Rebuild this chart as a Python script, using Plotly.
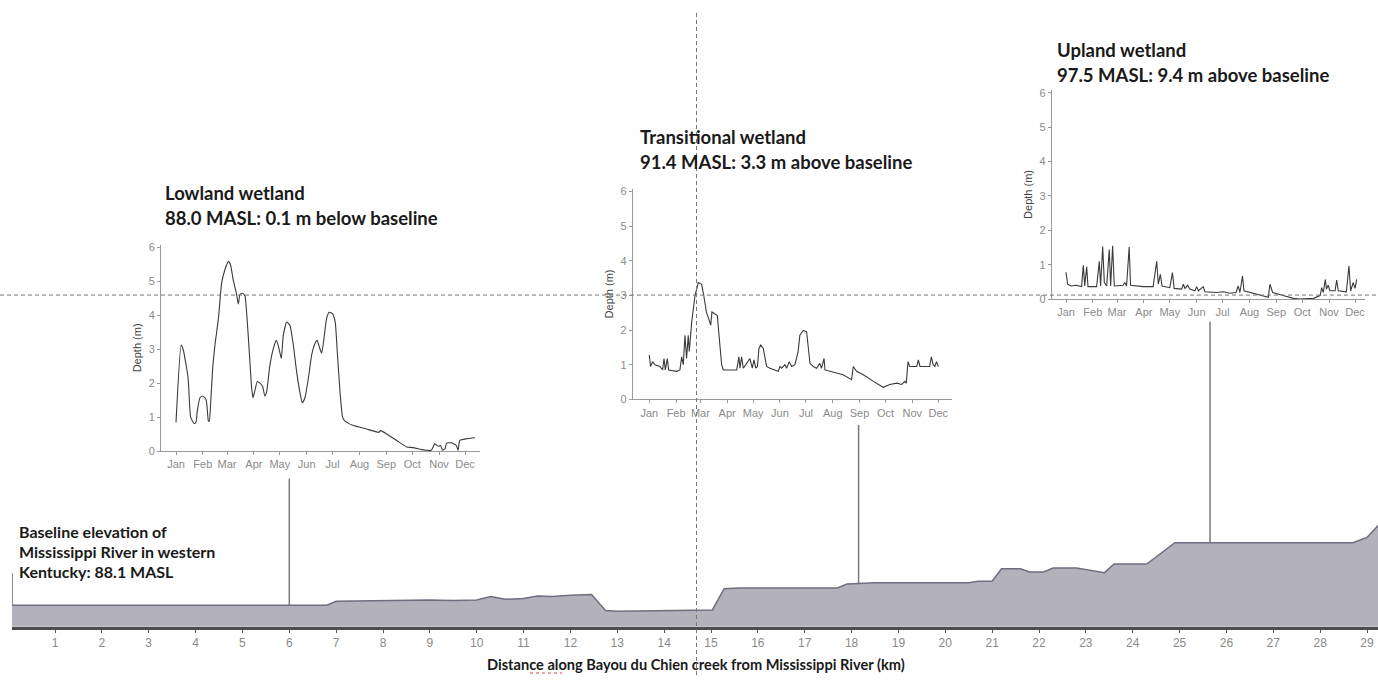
import plotly.graph_objects as go

W, H = 1378, 681

# ---------------- data ----------------
profile_km = [0, 6.8, 7.0, 7.5, 8.0, 8.5, 9.0, 9.5, 10.0, 10.3, 10.6, 11.0, 11.3, 11.6, 12.0, 12.45,
              12.75, 13.0, 14.0, 15.03, 15.28, 15.6, 17.7, 17.9, 18.5, 20.5, 20.7, 21.0, 21.2, 21.6,
              21.8, 22.1, 22.3, 22.8, 23.4, 23.6, 24.3, 24.9, 28.7, 29.0, 29.25]
profile_masl = [88.1, 88.1, 88.7, 88.75, 88.8, 88.85, 88.9, 88.8, 88.9, 89.4, 89.0, 89.1, 89.5, 89.4,
                89.6, 89.7, 87.3, 87.2, 87.35, 87.4, 90.6, 90.7, 90.7, 91.3, 91.5, 91.5, 91.7, 91.7,
                93.6, 93.6, 93.1, 93.1, 93.7, 93.7, 93.0, 94.3, 94.3, 97.5, 97.5, 98.3, 100.2]
km_ticks = list(range(1, 30))

wetland_names = ["Lowland wetland", "Transitional wetland", "Upland wetland"]
wetland_km = [6.0, 18.15, 25.65]
wetland_masl = [88.0, 91.4, 97.5]
wetland_sub = ["88.0 MASL: 0.1 m below baseline", "91.4 MASL: 3.3 m above baseline",
               "97.5 MASL: 9.4 m above baseline"]

month_days = [1, 32, 60, 91, 121, 152, 182, 213, 244, 274, 305, 335]
month_labels = ["Jan", "Feb", "Mar", "Apr", "May", "Jun", "Jul", "Aug", "Sep", "Oct", "Nov", "Dec"]

low_day = [1, 7, 9.5, 15, 18, 22, 24, 25.6, 28.7, 31.8, 35.7, 37, 38.4, 39.5, 41, 43.4, 46, 50, 53.8,
           57.6, 61.5, 64, 67, 71, 73, 75, 78, 80.7, 82.6, 85.7, 88.4, 90, 92, 95, 98, 101, 103.7,
           105.8, 109.6, 113.5, 117, 120, 122.7, 125, 129, 132.7, 136.6, 140.4, 144, 147, 150, 154,
           157.8, 161.6, 164, 166.6, 169.3, 172, 175, 178, 182, 185, 187.4, 190.5, 193.6, 196, 206,
           221, 235, 237.8, 244.5, 256, 267.6, 275, 285, 296, 300, 304, 306.8, 309, 311.9, 313.8,
           319.6, 325, 327, 329, 337, 346.5]
low_depth = [0.84, 3.12, 2.97, 2.15, 0.99, 0.81, 0.84, 1.18, 1.57, 1.62, 1.52, 1.28, 0.89, 0.87, 1.38,
             2.44, 3.12, 3.9, 4.96, 5.35, 5.59, 5.49, 5.06, 4.62, 4.33, 4.62, 4.65, 4.57, 4.09, 2.92,
             1.86, 1.57, 1.76, 2.05, 2.0, 1.91, 1.62, 1.76, 2.54, 3.02, 3.26, 3.02, 2.73, 3.41, 3.8,
             3.7, 3.12, 2.34, 1.76, 1.42, 1.57, 2.15, 2.83, 3.17, 3.26, 3.07, 2.88, 3.31, 3.9, 4.09,
             4.04, 3.8, 2.92, 1.76, 0.99, 0.89, 0.75, 0.65, 0.55, 0.6, 0.5, 0.31, 0.12, 0.10, 0.04,
             0.02, 0.21, 0.14, 0.16, 0.02, 0.07, 0.23, 0.24, 0.16, 0.02, 0.31, 0.36, 0.39]

trans_day = [1, 2.5, 4.9, 7.5, 13.3, 16.4, 18, 19.5, 21.8, 23.3, 32.6, 36.4, 38.4, 40.3, 42.2, 44.1,
             46, 47.2, 50, 53.8, 57.6, 61.5, 64, 67, 69.6, 72, 73.4, 77, 79.6, 81.9, 84.6, 86.5, 102,
             104.6, 105.8, 107.7, 109.6, 113.5, 117.3, 120, 122, 124, 126, 127.7, 129.7, 132.7, 134.7,
             136.6, 140.4, 146, 150, 152, 154, 157.8, 159.7, 162.8, 165.5, 169.3, 173, 175, 179,
             182.8, 184.7, 186.7, 190.5, 194.4, 198, 200, 203, 204, 209.8, 217.5, 225, 234.8, 236.7,
             240.6, 248.3, 260, 271.4, 279, 287, 292.6, 296.5, 298, 300, 302, 310, 312, 313.8, 325,
             327, 329, 331, 333, 335]
trans_depth = [1.28, 0.95, 1.09, 1.0, 0.95, 0.85, 1.18, 0.85, 1.18, 0.85, 0.81, 0.85, 1.23, 1.0, 1.85,
               1.18, 1.85, 1.38, 2.23, 2.99, 3.37, 3.32, 2.99, 2.52, 2.33, 2.14, 2.52, 2.47, 2.42,
               1.76, 1.0, 0.85, 0.85, 1.23, 0.9, 1.23, 0.9, 1.04, 1.18, 0.9, 1.14, 0.9, 0.95, 1.47,
               1.57, 1.47, 1.18, 0.95, 0.9, 0.85, 0.81, 0.95, 0.9, 1.0, 0.9, 1.09, 0.95, 1.0, 1.38,
               1.85, 1.99, 1.95, 1.57, 1.04, 0.95, 0.9, 1.04, 0.9, 1.18, 0.85, 0.81, 0.76, 0.71, 0.57,
               0.95, 0.81, 0.71, 0.52, 0.35, 0.43, 0.47, 0.43, 0.52, 0.47, 1.09, 0.95, 0.95, 1.14,
               0.95, 0.95, 1.23, 1.0, 0.95, 1.09, 0.95]

up_day = [1, 2.9, 6.7, 12.5, 19, 21, 22.6, 24.9, 26.4, 36.4, 39.5, 41, 43.4, 45.3, 48, 51, 52.6, 54.9,
          56.8, 67, 69, 71, 74, 75.6, 90, 101.7, 105.8, 107.7, 110, 112, 121, 124, 126, 134.7, 136.6,
          138.5, 141.6, 144, 150, 152, 154, 159.7, 161.6, 175, 183, 190.5, 197.5, 200, 202, 205,
          206.7, 221, 234.8, 236.7, 239.8, 252, 263.7, 271, 281, 287, 294.7, 296.5, 298.4, 300.7,
          302, 304, 306, 312, 313.8, 315.7, 325, 328, 330, 333, 335, 337]
up_depth = [0.78, 0.43, 0.38, 0.40, 0.36, 0.98, 0.38, 0.94, 0.36, 0.36, 1.1, 0.38, 1.53, 0.48, 0.38,
            1.44, 0.38, 1.55, 0.38, 0.40, 0.48, 0.38, 1.51, 0.40, 0.36, 0.36, 1.1, 0.43, 0.72, 0.38,
            0.33, 0.77, 0.31, 0.29, 0.43, 0.31, 0.40, 0.29, 0.24, 0.36, 0.24, 0.36, 0.21, 0.19, 0.21,
            0.17, 0.19, 0.38, 0.19, 0.67, 0.24, 0.14, 0.05, 0.43, 0.19, 0.10, 0.02, 0.0, 0.0, 0.02,
            0.10, 0.33, 0.19, 0.57, 0.29, 0.40, 0.24, 0.24, 0.55, 0.24, 0.21, 0.96, 0.24, 0.48, 0.31,
            0.57]

# ---------------- layout helpers (pixel -> paper) ----------------
def fx(p):
    return p / W

def fy(p):
    return 1 - p / H

PX_PER_KM = (1367 - 55) / 28.0
KM0_PX = 55 - PX_PER_KM
PX_PER_M = 6.74

def masl_at(p):
    return 88.0 + (611 - p) / PX_PER_M

fig = go.Figure()

fig.add_trace(go.Scatter(x=profile_km, y=profile_masl, mode="lines", fill="tozeroy",
                         fillcolor="#b2b1bc", line=dict(color="#6f6e80", width=1.5),
                         xaxis="x", yaxis="y", hoverinfo="skip", showlegend=False))

insets = [
    dict(day=low_day, depth=low_depth, shape="spline", left=161, right=480, jan=176, zero=454,
         six=247.7, top=245),
    dict(day=trans_day, depth=trans_depth, shape="linear", left=632.7, right=951.7, jan=649.3,
         zero=401.7, six=191, top=188),
    dict(day=up_day, depth=up_depth, shape="linear", left=1051.7, right=1365, jan=1066, zero=300,
         six=91, top=88),
]
DAYS_PER_PX = 334 / 289.0

layout = dict(
    width=W, height=H, margin=dict(l=0, r=0, t=0, b=0),
    paper_bgcolor="white", plot_bgcolor="rgba(0,0,0,0)", showlegend=False,
    xaxis=dict(domain=[fx(12), 1], range=[(12 - KM0_PX) / PX_PER_KM, (W - KM0_PX) / PX_PER_KM],
               tickvals=km_ticks, ticks="outside", ticklen=3, tickcolor="#555", tickwidth=1,
               showgrid=False, zeroline=False, showline=True,
               linecolor="#4d4d4d", linewidth=3,
               tickfont=dict(family="Liberation Sans", size=12, color="#8a8a8a"), anchor="y"),
    yaxis=dict(domain=[fy(632), 1], range=[masl_at(632), masl_at(0)], visible=False,
               showgrid=False, zeroline=False, anchor="x"),
)

for i, ins in enumerate(insets):
    n = i + 2
    xa, ya = f"xaxis{n}", f"yaxis{n}"
    line = dict(color="#3a3a3a", width=1.1, shape=ins["shape"])
    if ins["shape"] == "spline":
        line["smoothing"] = 0.5
    fig.add_trace(go.Scatter(x=ins["day"], y=ins["depth"], mode="lines", line=line,
                             xaxis=f"x{n}", yaxis=f"y{n}", hoverinfo="skip", showlegend=False))
    layout[xa] = dict(domain=[fx(ins["left"]), fx(ins["right"])],
                      range=[1 - (ins["jan"] - ins["left"]) * DAYS_PER_PX,
                             1 + (ins["right"] - ins["jan"]) * DAYS_PER_PX],
                      tickvals=month_days, ticktext=month_labels, ticks="outside", ticklen=3,
                      tickcolor="#999", showline=True, linecolor="#999", linewidth=1,
                      showgrid=False, zeroline=False,
                      tickfont=dict(family="Liberation Sans", size=11, color="#8a8a8a"),
                      anchor=f"y{n}")
    layout[ya] = dict(domain=[fy(ins["zero"]), fy(ins["top"])],
                      range=[0, 6 * (ins["zero"] - ins["top"]) / (ins["zero"] - ins["six"])],
                      tickvals=[0, 1, 2, 3, 4, 5, 6], ticks="outside", ticklen=3, tickcolor="#999",
                      showline=True, linecolor="#999", linewidth=1, showgrid=False, zeroline=False,
                      tickfont=dict(family="Liberation Sans", size=11, color="#8a8a8a"),
                      title=dict(text="Depth (m)", standoff=4,
                                 font=dict(family="Liberation Sans", size=11, color="#444")),
                      anchor=f"x{n}")

fig.update_layout(**layout)

shapes = []
for i, ins in enumerate(insets):
    shapes.append(dict(type="line", xref="x", yref="y", x0=wetland_km[i], x1=wetland_km[i],
                       y0=wetland_masl[i], y1=masl_at(ins["zero"] + [28, 26, 23][i]),
                       line=dict(color="#7a7a7a", width=1.5)))
shapes.append(dict(type="line", xref="paper", yref="y", x0=fx(12.5), x1=fx(12.5),
                   y0=profile_masl[0], y1=masl_at(578), line=dict(color="#888", width=1)))
shapes.append(dict(type="line", xref="paper", yref="paper", x0=fx(696.5), x1=fx(696.5), y0=0,
                   y1=fy(10), line=dict(color="#777", width=1, dash="4px,3px")))
shapes.append(dict(type="line", xref="paper", yref="paper", x0=0, x1=1, y0=fy(296), y1=fy(296),
                   line=dict(color="#777", width=1, dash="4px,3px")))
shapes.append(dict(type="line", xref="paper", yref="paper", x0=fx(530), x1=fx(562), y0=fy(679),
                   y1=fy(679), line=dict(color="#e04040", width=1, dash="dot")))

annotations = []
title_pos = [(163, 193), (638, 136), (1055, 48)]
for i, (tx, ty) in enumerate(title_pos):
    annotations.append(dict(text=f"<b>{wetland_names[i]}</b>", x=fx(tx), y=fy(ty), xref="paper",
                            yref="paper", xanchor="left", yanchor="middle", showarrow=False,
                            font=dict(family="Lato", size=18.5, color="#1a1a1a")))
    annotations.append(dict(text=f"<b>{wetland_sub[i]}</b>", x=fx(tx), y=fy(ty + 25), xref="paper",
                            yref="paper", xanchor="left", yanchor="middle", showarrow=False,
                            font=dict(family="Lato", size=18.5, color="#1a1a1a")))

baseline_lines = ["Baseline elevation of", "Mississippi River in western", "Kentucky: 88.1 MASL"]
for j, t in enumerate(baseline_lines):
    annotations.append(dict(text=f"<b>{t}</b>", x=fx(17), y=fy(536 + 20 * j), xref="paper",
                            yref="paper", xanchor="left", yanchor="middle", showarrow=False,
                            font=dict(family="Lato", size=16, color="#1a1a1a")))

annotations.append(dict(text="<b>Distance along Bayou du Chien creek from Mississippi River (km)</b>",
                        x=fx(696), y=fy(670), xref="paper", yref="paper", xanchor="center",
                        yanchor="middle", showarrow=False,
                        font=dict(family="Lato", size=14.6, color="#1a1a1a")))

fig.update_layout(shapes=shapes, annotations=annotations)
fig.write_html("out.html", config={"displayModeBar": False},
               post_script="document.body.style.margin='0';document.body.style.overflow='hidden';")
